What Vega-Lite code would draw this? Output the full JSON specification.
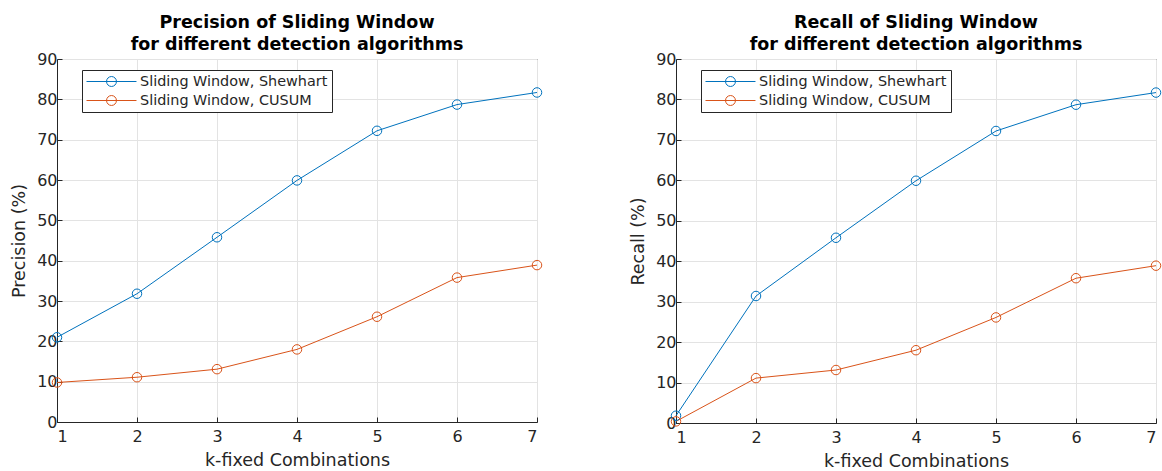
{
  "$schema": "https://vega.github.io/schema/vega-lite/v6.json",
  "padding": {"left": 10, "top": 13, "right": 0, "bottom": 0},
  "spacing": 84,
  "config": {
    "font": "DejaVu Sans",
    "view": {"stroke": "#262626", "strokeWidth": 1},
    "axis": {
      "labelFont": "DejaVu Sans",
      "titleFont": "DejaVu Sans",
      "labelFontSize": 16,
      "titleFontSize": 17.5,
      "labelColor": "#262626",
      "titleColor": "#262626",
      "titleFontWeight": "normal",
      "gridColor": "#e3e3e3",
      "gridOpacity": 1,
      "domainColor": "#262626",
      "tickColor": "#262626",
      "tickSize": -5
    },
    "title": {"font": "DejaVu Sans", "fontSize": 17.5, "fontWeight": "bold", "color": "#000000", "anchor": "middle", "offset": -2, "lineHeight": 22},
    "legend": {"labelFont": "DejaVu Sans", "labelFontSize": 14.4, "labelColor": "#262626"}
  },
  "datasets": {
    "precision": [
      {"k": 1, "series": "Sliding Window, Shewhart", "value": 21.0},
      {"k": 2, "series": "Sliding Window, Shewhart", "value": 31.8},
      {"k": 3, "series": "Sliding Window, Shewhart", "value": 45.8},
      {"k": 4, "series": "Sliding Window, Shewhart", "value": 59.9},
      {"k": 5, "series": "Sliding Window, Shewhart", "value": 72.2},
      {"k": 6, "series": "Sliding Window, Shewhart", "value": 78.7},
      {"k": 7, "series": "Sliding Window, Shewhart", "value": 81.7},
      {"k": 1, "series": "Sliding Window, CUSUM", "value": 9.8},
      {"k": 2, "series": "Sliding Window, CUSUM", "value": 11.1},
      {"k": 3, "series": "Sliding Window, CUSUM", "value": 13.1},
      {"k": 4, "series": "Sliding Window, CUSUM", "value": 18.0},
      {"k": 5, "series": "Sliding Window, CUSUM", "value": 26.1},
      {"k": 6, "series": "Sliding Window, CUSUM", "value": 35.8},
      {"k": 7, "series": "Sliding Window, CUSUM", "value": 38.9}
    ],
    "recall": [
      {"k": 1, "series": "Sliding Window, Shewhart", "value": 1.8},
      {"k": 2, "series": "Sliding Window, Shewhart", "value": 31.4},
      {"k": 3, "series": "Sliding Window, Shewhart", "value": 45.8},
      {"k": 4, "series": "Sliding Window, Shewhart", "value": 59.9},
      {"k": 5, "series": "Sliding Window, Shewhart", "value": 72.2},
      {"k": 6, "series": "Sliding Window, Shewhart", "value": 78.7},
      {"k": 7, "series": "Sliding Window, Shewhart", "value": 81.7},
      {"k": 1, "series": "Sliding Window, CUSUM", "value": 0.4},
      {"k": 2, "series": "Sliding Window, CUSUM", "value": 11.1},
      {"k": 3, "series": "Sliding Window, CUSUM", "value": 13.1},
      {"k": 4, "series": "Sliding Window, CUSUM", "value": 18.0},
      {"k": 5, "series": "Sliding Window, CUSUM", "value": 26.1},
      {"k": 6, "series": "Sliding Window, CUSUM", "value": 35.8},
      {"k": 7, "series": "Sliding Window, CUSUM", "value": 38.9}
    ]
  },
  "hconcat": [
    {
      "width": 480,
      "height": 363,
      "title": {"text": ["Precision of Sliding Window", "for different detection algorithms"]},
      "data": {"name": "precision"},
      "mark": {"type": "line", "strokeWidth": 1, "point": {"filled": false, "fill": "white", "fillOpacity": 0, "size": 90, "strokeWidth": 1}},
      "encoding": {
        "x": {"field": "k", "type": "quantitative", "scale": {"domain": [1, 7], "nice": false}, "axis": {"values": [1, 2, 3, 4, 5, 6, 7], "title": "k-fixed Combinations", "titlePadding": 7, "labelPadding": 11}},
        "y": {"field": "value", "type": "quantitative", "scale": {"domain": [0, 90], "nice": false}, "axis": {"values": [0, 10, 20, 30, 40, 50, 60, 70, 80, 90], "title": "Precision (%)", "titlePadding": 8, "labelPadding": 5}},
        "color": {"field": "series", "type": "nominal", "sort": ["Sliding Window, Shewhart", "Sliding Window, CUSUM"], "scale": {"domain": ["Sliding Window, Shewhart", "Sliding Window, CUSUM"], "range": ["#0072BD", "#D95319"]},
          "legend": {"title": null, "orient": "none", "legendX": 25, "legendY": 11, "labelLimit": 400, "strokeColor": "#262626", "fillColor": "white", "padding": 4, "symbolType": "M-1,0L6.14,0M3.28,0A0.71,0.71 0 1 1 1.86,0A0.71,0.71 0 1 1 3.28,0", "symbolSize": 196, "symbolStrokeWidth": 1, "symbolFillColor": "transparent", "labelOffset": 39, "rowPadding": 3}}
      }
    },
    {
      "width": 480,
      "height": 364,
      "title": {"text": ["Recall of Sliding Window", "for different detection algorithms"]},
      "data": {"name": "recall"},
      "mark": {"type": "line", "strokeWidth": 1, "point": {"filled": false, "fill": "white", "fillOpacity": 0, "size": 90, "strokeWidth": 1}},
      "encoding": {
        "x": {"field": "k", "type": "quantitative", "scale": {"domain": [1, 7], "nice": false}, "axis": {"values": [1, 2, 3, 4, 5, 6, 7], "title": "k-fixed Combinations", "titlePadding": 7, "labelPadding": 11}},
        "y": {"field": "value", "type": "quantitative", "scale": {"domain": [0, 90], "nice": false}, "axis": {"values": [0, 10, 20, 30, 40, 50, 60, 70, 80, 90], "title": "Recall (%)", "titlePadding": 8, "labelPadding": 5}},
        "color": {"field": "series", "type": "nominal", "scale": {"domain": ["Sliding Window, Shewhart", "Sliding Window, CUSUM"], "range": ["#0072BD", "#D95319"]},
          "legend": {"title": null, "orient": "none", "legendX": 25, "legendY": 11, "labelLimit": 400, "strokeColor": "#262626", "fillColor": "white", "padding": 4, "symbolType": "M-1,0L6.14,0M3.28,0A0.71,0.71 0 1 1 1.86,0A0.71,0.71 0 1 1 3.28,0", "symbolSize": 196, "symbolStrokeWidth": 1, "symbolFillColor": "transparent", "labelOffset": 39, "rowPadding": 3}}
      }
    }
  ],
  "resolve": {"legend": {"color": "independent"}}
}
